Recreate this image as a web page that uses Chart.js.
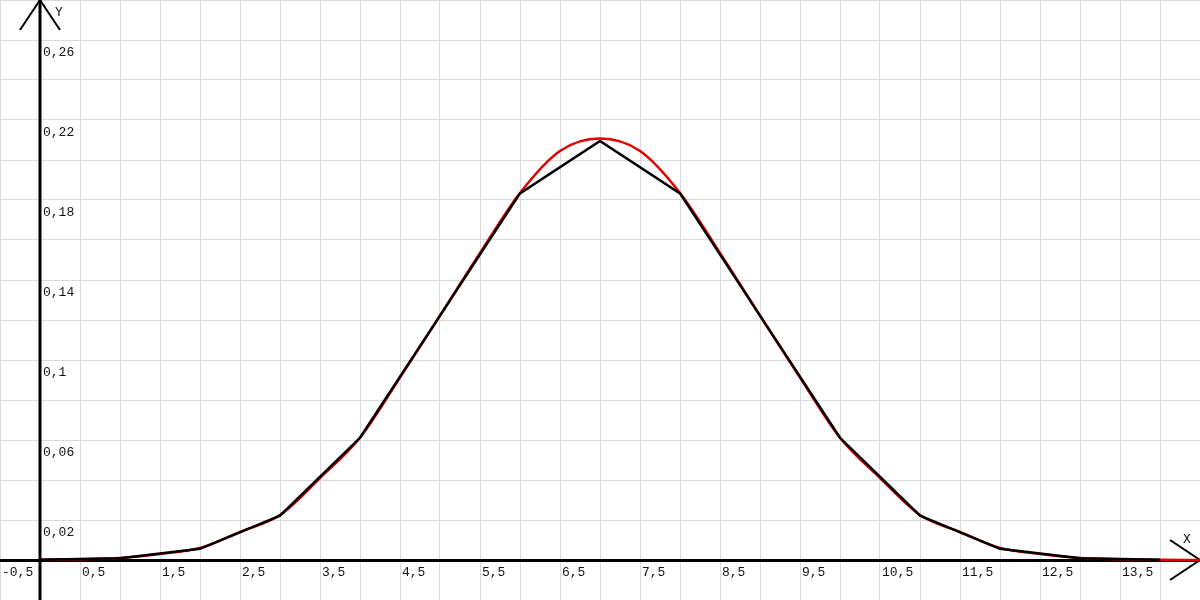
<!DOCTYPE html>
<html>
<head>
<meta charset="utf-8">
<script src="https://cdn.jsdelivr.net/npm/chart.js@4/dist/chart.umd.min.js"></script>
<style>
  html, body { margin: 0; padding: 0; background: #fff; }
  canvas { display: block; }
</style>
</head>
<body>
<canvas id="chart" width="1200" height="600"></canvas>
<script>
"use strict";

// binomial probabilities (black polyline), k = 0..14
const binomX = [0, 1, 2, 3, 4, 5, 6, 7, 8, 9, 10, 11, 12, 13, 14];
const binomY = [0.0001, 0.0009, 0.0056, 0.0222, 0.0611, 0.1222, 0.1833, 0.2095,
                0.1833, 0.1222, 0.0611, 0.0222, 0.0056, 0.0009, 0.0001];

// smooth red curve, every half unit
const curveX = [0, 0.5, 1, 1.5, 2, 2.5, 3, 3.5, 4, 4.5, 5, 5.5, 6, 6.5, 7,
                7.5, 8, 8.5, 9, 9.5, 10, 10.5, 11, 11.5, 12, 12.5, 13, 13.5, 14, 14.5];
const curveY = [0.0001, 0.0004, 0.0010, 0.0030, 0.0060, 0.0140, 0.0225, 0.0410, 0.0611,
                0.0912, 0.1222, 0.1535, 0.1835, 0.2045, 0.2107, 0.2045, 0.1835, 0.1535,
                0.1222, 0.0912, 0.0611, 0.0410, 0.0225, 0.0140, 0.0060, 0.0030, 0.0010,
                0.0004, 0.0001, 0.0000];

// axis labels
const xTickLabels = [-0.5, 0.5, 1.5, 2.5, 3.5, 4.5, 5.5, 6.5, 7.5, 8.5, 9.5, 10.5, 11.5, 12.5, 13.5];
const yTickLabels = [0.02, 0.06, 0.1, 0.14, 0.18, 0.22, 0.26];
const X_MIN = -0.5, X_MAX = 14.5;
const Y_MIN = -0.02, Y_MAX = 0.28;

function pts(xs, ys) {
    return xs.map((x, i) => ({ x, y: ys[i] }));
}
function comma(v) {
    return String(v).replace(".", ",");
}

const axesPlugin = {
    id: "axes",
    beforeDatasetsDraw(c) {
        const ctx = c.ctx;
        const sx = c.scales.x, sy = c.scales.y;
        const x0 = sx.getPixelForValue(0), y0 = sy.getPixelForValue(0);
        const left = sx.getPixelForValue(X_MIN), right = sx.getPixelForValue(X_MAX);
        const top = sy.getPixelForValue(Y_MAX), bottom = sy.getPixelForValue(Y_MIN);
        ctx.save();
        ctx.strokeStyle = "#000";
        ctx.lineWidth = 3;
        ctx.beginPath();
        ctx.moveTo(left, y0 + 0.5); ctx.lineTo(right, y0 + 0.5);
        ctx.moveTo(x0, bottom); ctx.lineTo(x0, top);
        ctx.stroke();

        // arrow heads
        ctx.lineWidth = 2;
        ctx.beginPath();
        ctx.moveTo(x0 - 20, top + 30); ctx.lineTo(x0, top); ctx.lineTo(x0 + 20, top + 30);
        ctx.moveTo(right - 30, y0 - 20); ctx.lineTo(right, y0); ctx.lineTo(right - 30, y0 + 20);
        ctx.stroke();

        ctx.fillStyle = "#111";
        ctx.font = "13px 'Liberation Mono'";
        ctx.textBaseline = "top";
        ctx.textAlign = "left";
        for (const v of xTickLabels) {
            ctx.fillText(comma(v), sx.getPixelForValue(v) + 2, y0 + 6);
        }
        for (const v of yTickLabels) {
            ctx.fillText(comma(v), x0 + 3, sy.getPixelForValue(v) + 6);
        }
        ctx.fillText("Y", x0 + 15, top + 6);
        ctx.fillText("X", right - 17, y0 - 27);
        ctx.restore();
    }
};

const chart = new Chart(document.getElementById("chart").getContext("2d"), {
    type: "line",
    data: {
        datasets: [
            {
                data: pts(binomX, binomY),
                borderColor: "#000",
                borderWidth: 2.5,
                pointRadius: 0,
                tension: 0,
                fill: false,
                order: 1
            },
            {
                data: pts(curveX, curveY),
                borderColor: "#e00000",
                borderWidth: 2.5,
                pointRadius: 0,
                cubicInterpolationMode: "monotone",
                fill: false,
                order: 2
            }
        ]
    },
    options: {
        responsive: false,
        animation: false,
        devicePixelRatio: 1,
        layout: { padding: 0 },
        plugins: { legend: { display: false }, tooltip: { enabled: false } },
        scales: {
            x: {
                type: "linear", min: X_MIN, max: X_MAX,
                ticks: { display: false, stepSize: 0.5 },
                grid: { color: "#d9d9d9", lineWidth: 1, drawTicks: false },
                border: { display: false }
            },
            y: {
                type: "linear", min: Y_MIN, max: Y_MAX,
                ticks: { display: false, stepSize: 0.02 },
                grid: { color: "#d9d9d9", lineWidth: 1, drawTicks: false },
                border: { display: false }
            }
        }
    },
    plugins: [axesPlugin]
});
</script>
</body>
</html>
